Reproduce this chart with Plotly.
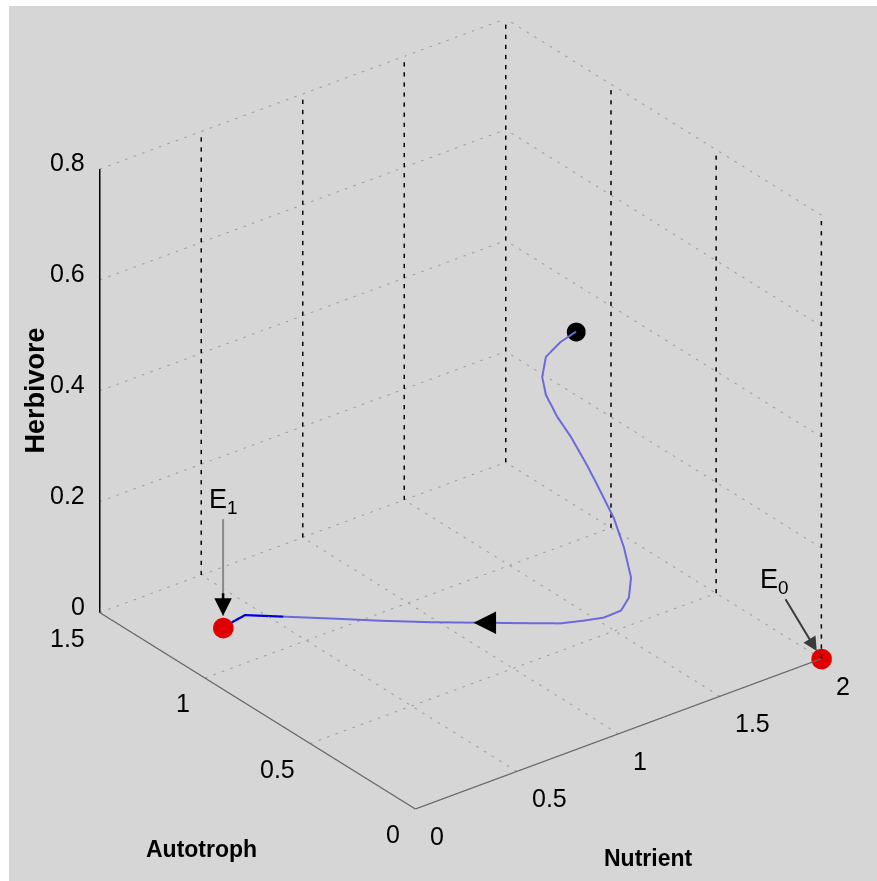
import plotly.graph_objects as go

# ---------------- data ----------------
nutrient = [1.517, 1.434, 1.349, 1.312, 1.325, 1.372, 1.430, 1.494, 1.548, 1.602,
            1.640, 1.650, 1.626, 1.579, 1.505, 1.434, 1.351, 1.232, 1.091, 0.963,
            0.818, 0.692, 0.544, 0.435, 0.378, 0.306]
autotroph = [0.700, 0.692, 0.681, 0.663, 0.658, 0.649, 0.640, 0.626, 0.621, 0.602,
             0.591, 0.567, 0.554, 0.546, 0.556, 0.582, 0.613, 0.687, 0.776, 0.857,
             0.956, 1.048, 1.153, 1.229, 1.222, 1.209]
herbivore = [0.490, 0.485, 0.472, 0.445, 0.412, 0.368, 0.326, 0.270, 0.222, 0.165,
             0.110, 0.060, 0.030, 0.015, 0.010, 0.008, 0.007, 0.006, 0.005, 0.004,
             0.003, 0.002, 0.001, 0.0005, 0.0, 0.0]
DARK_FROM = 22      # index where the trajectory turns dark blue
ARROW_AT = 18       # index of the direction arrow

E0 = (2.0, 0.0, 0.0)
E1 = (nutrient[-1], autotroph[-1], herbivore[-1])

N_TICKS = [0, 0.5, 1, 1.5, 2]
A_TICKS = [0, 0.5, 1, 1.5]
H_TICKS = [0, 0.2, 0.4, 0.6, 0.8]
N_RANGE = [0, 2]
A_RANGE = [0, 1.5]
H_RANGE = [0, 0.8]

# ---------------- style ----------------
FONT = "Liberation Sans, Arial, Helvetica, sans-serif"
BG = "#d6d6d6"
PX_PER_UNIT = (216.0, 247.0, 552.5)   # approx screen length of one data unit per axis


def pattern_segs(pairs, period_px, on_frac):
    """Break straight lines into short pieces to mimic dotted / dashed lines."""
    xs, ys, zs = [], [], []
    for p, q in pairs:
        length = sum(abs(q[i] - p[i]) * PX_PER_UNIT[i] for i in range(3))
        n = max(1, round(length / period_px))
        for k in range(n):
            t0 = k / n
            t1 = (k + on_frac) / n
            xs += [p[0] + (q[0] - p[0]) * t0, p[0] + (q[0] - p[0]) * t1, None]
            ys += [p[1] + (q[1] - p[1]) * t0, p[1] + (q[1] - p[1]) * t1, None]
            zs += [p[2] + (q[2] - p[2]) * t0, p[2] + (q[2] - p[2]) * t1, None]
    return xs, ys, zs


def segs(pairs):
    xs, ys, zs = [], [], []
    for p, q in pairs:
        xs += [p[0], q[0], None]
        ys += [p[1], q[1], None]
        zs += [p[2], q[2], None]
    return xs, ys, zs


n0, n1 = N_RANGE
a0, a1 = A_RANGE
h0, h1 = H_RANGE

# dotted grey grid (floor + horizontal lines of the back walls)
dotted = []
for n in N_TICKS[1:]:
    dotted.append(((n, a0, h0), (n, a1, h0)))
for a in A_TICKS[1:]:
    dotted.append(((n0, a, h0), (n1, a, h0)))
for h in H_TICKS[1:]:
    dotted.append(((n0, a1, h), (n1, a1, h)))
    dotted.append(((n1, a0, h), (n1, a1, h)))

# dashed black vertical grid lines of the back walls
dashed = []
for n in N_TICKS[1:]:
    dashed.append(((n, a1, h0), (n, a1, h1)))
for a in A_TICKS[:-1]:
    dashed.append(((n1, a, h0), (n1, a, h1)))

fig = go.Figure()

x, y, z = pattern_segs(dotted, 9.0, 0.28)
fig.add_trace(go.Scatter3d(x=x, y=y, z=z, mode="lines",
                           line=dict(color="#9c9c9c", width=2),
                           hoverinfo="skip", showlegend=False))
x, y, z = pattern_segs(dashed, 10.0, 0.42)
fig.add_trace(go.Scatter3d(x=x, y=y, z=z, mode="lines",
                           line=dict(color="#000000", width=3),
                           hoverinfo="skip", showlegend=False))

# axis lines
x, y, z = segs([((n0, a0, h0), (n1, a0, h0)), ((n0, a0, h0), (n0, a1, h0))])
fig.add_trace(go.Scatter3d(x=x, y=y, z=z, mode="lines",
                           line=dict(color="#686868", width=2.5),
                           hoverinfo="skip", showlegend=False))
x, y, z = segs([((n0, a1, h0), (n0, a1, h1))])
fig.add_trace(go.Scatter3d(x=x, y=y, z=z, mode="lines",
                           line=dict(color="#000000", width=3),
                           hoverinfo="skip", showlegend=False))

# trajectory
fig.add_trace(go.Scatter3d(x=nutrient[:DARK_FROM + 1], y=autotroph[:DARK_FROM + 1],
                           z=herbivore[:DARK_FROM + 1], mode="lines",
                           line=dict(color="#6a6adc", width=4),
                           showlegend=False))
fig.add_trace(go.Scatter3d(x=nutrient[DARK_FROM:], y=autotroph[DARK_FROM:],
                           z=herbivore[DARK_FROM:], mode="lines",
                           line=dict(color="#0000dd", width=4.5),
                           showlegend=False))

# start point
fig.add_trace(go.Scatter3d(x=[nutrient[0]], y=[autotroph[0]], z=[herbivore[0]],
                           mode="markers",
                           marker=dict(color="#000000", size=11),
                           showlegend=False))
# equilibria
fig.add_trace(go.Scatter3d(x=[E0[0], E1[0]], y=[E0[1], E1[1]], z=[E0[2], E1[2]],
                           mode="markers",
                           marker=dict(color="#e00000", size=12),
                           showlegend=False))

tick_font = dict(family=FONT, size=25, color="#000000")
title_font = dict(family=FONT, size=23, color="#000000")
ann = []
for n in N_TICKS:
    ann.append(dict(x=n, y=a0, z=h0, text=f"{n:g}", showarrow=False,
                    xanchor="left", yanchor="middle", xshift=13, yshift=-27,
                    font=tick_font))
for a in A_TICKS:
    ann.append(dict(x=n0, y=a, z=h0, text=f"{a:g}", showarrow=False,
                    xanchor="right", yanchor="middle", xshift=-13, yshift=-25,
                    font=tick_font))
for h in H_TICKS:
    ann.append(dict(x=n0, y=a1, z=h, text=f"{h:g}", showarrow=False,
                    xanchor="right", yanchor="middle", xshift=-13, yshift=7,
                    font=tick_font))
ann.append(dict(x=(n0 + n1) / 2, y=a0, z=h0, text="<b>Nutrient</b>", showarrow=False,
                xshift=30, yshift=-124, font=title_font))
ann.append(dict(x=n0, y=(a0 + a1) / 2, z=h0, text="<b>Autotroph</b>", showarrow=False,
                xshift=-56, yshift=-138, font=title_font))
ann.append(dict(x=n0, y=a1, z=(h0 + h1) / 2, text="<b>Herbivore</b>", showarrow=False,
                textangle=-90, xshift=-65, yshift=0,
                font=dict(family=FONT, size=27, color="#000000")))

# equilibrium labels with arrows
lab_font = dict(family=FONT, size=27, color="#000000")
ann.append(dict(x=E1[0], y=E1[1], z=E1[2], text="E<sub>1</sub>", showarrow=True,
                ax=0, ay=-127, arrowhead=0, arrowwidth=2, arrowcolor="#8a8a8a",
                standoff=12, font=lab_font))
ann.append(dict(x=E1[0], y=E1[1], z=E1[2], text="", showarrow=True,
                ax=0, ay=-36, arrowhead=2, arrowsize=1.4, arrowwidth=2.5,
                arrowcolor="#000000", standoff=12))
ann.append(dict(x=E0[0], y=E0[1], z=E0[2], text="E<sub>0</sub>", showarrow=True,
                ax=-47, ay=-78, arrowhead=2, arrowsize=1.4, arrowwidth=2,
                arrowcolor="#3a3a3a", standoff=9, font=lab_font))
# direction arrow on the trajectory
ann.append(dict(x=nutrient[ARROW_AT], y=autotroph[ARROW_AT], z=herbivore[ARROW_AT],
                text="", showarrow=True, ax=20, ay=0, arrowhead=2, arrowsize=1.5,
                arrowwidth=3, arrowcolor="#000000", standoff=0))

D = 1.8
ZOOM = 1.172
eye_dir = (-0.536, -0.695, 0.48)
cen = (-0.0516, -0.0012, -0.0594)
hidden = dict(visible=False, showgrid=False, showline=False, zeroline=False,
              showbackground=False, showspikes=False, autorange=False)

fig.update_layout(
    width=877, height=881,
    margin=dict(l=0, r=0, t=0, b=0),
    paper_bgcolor="#ffffff",
    scene=dict(
        domain=dict(x=[9 / 877, 1], y=[0, 1 - 6 / 881]),
        bgcolor=BG,
        xaxis=dict(range=N_RANGE, **hidden),
        yaxis=dict(range=A_RANGE, **hidden),
        zaxis=dict(range=H_RANGE, **hidden),
        aspectmode="manual",
        aspectratio=dict(x=1.0 * ZOOM, y=1.008 * ZOOM, z=0.986 * ZOOM),
        camera=dict(eye=dict(x=cen[0] + D * eye_dir[0], y=cen[1] + D * eye_dir[1],
                             z=cen[2] + D * eye_dir[2]),
                    center=dict(x=cen[0], y=cen[1], z=cen[2]), up=dict(x=0, y=0, z=1),
                    projection=dict(type="orthographic")),
        annotations=ann,
    ),
)

fig.write_html("out.html")
